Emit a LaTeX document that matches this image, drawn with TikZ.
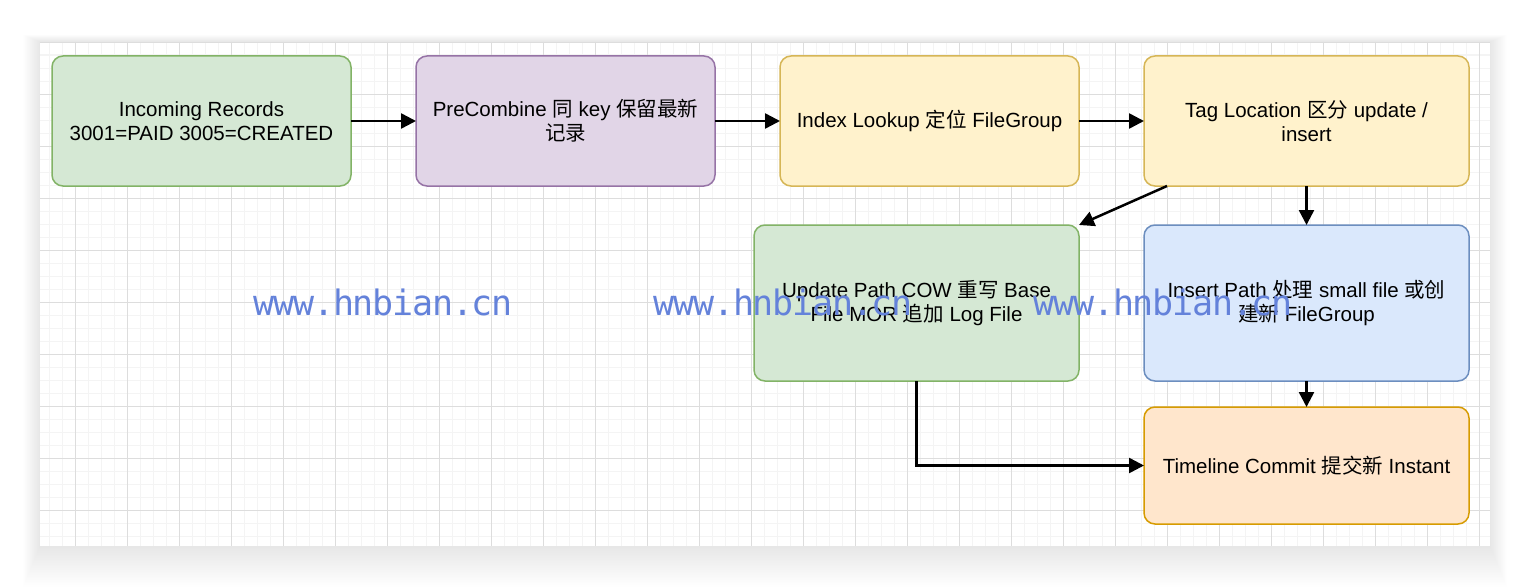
\documentclass[tikz,border=0pt]{standalone}
\usepackage{graphicx}
\usepackage{fontspec}
\setmainfont{Liberation Sans}
\newfontfamily\cjk{Noto Sans CJK SC}
\newfontfamily\wmfont{DejaVu Sans Mono}
\usetikzlibrary{arrows.meta,calc}
\definecolor{gfill}{HTML}{D5E8D4}\definecolor{gline}{HTML}{82B366}
\definecolor{pfill}{HTML}{E1D5E7}\definecolor{pline}{HTML}{9673A6}
\definecolor{yfill}{HTML}{FFF2CC}\definecolor{yline}{HTML}{D6B656}
\definecolor{bfill}{HTML}{DAE8FC}\definecolor{bline}{HTML}{6C8EBF}
\definecolor{ofill}{HTML}{FFE6CC}\definecolor{oline}{HTML}{D79B00}
\definecolor{gridminor}{HTML}{F4F4F4}
\definecolor{gridmajor}{HTML}{DDDDDD}
\definecolor{wmblue}{RGB}{100,130,218}
\newcommand\wc[1]{\makebox[19.85pt][c]{#1}}
\newcommand\wmark{\wmfont\fontsize{35}{35}\selectfont\wc{w}\wc{w}\wc{w}\wc{.}\wc{h}\wc{n}\wc{b}\wc{i}\wc{a}\wc{n}\wc{.}\wc{c}\wc{n}}
\tikzset{
  box/.style={draw, line width=1.5pt, rounded corners=11pt, inner sep=0pt, outer sep=0pt,
    align=center, font=\fontsize{20.5}{24}\selectfont},
  wide/.style={minimum width=299pt},
  wider/.style={minimum width=325pt},
  flow/.style={line width=2.5pt, -{Triangle[length=15pt,width=15pt]}},
  wm/.style={anchor=base west, inner sep=0pt, text=wmblue}
}
\begin{document}
\begin{tikzpicture}[x=1pt,y=-1pt]
\useasboundingbox (0,0) rectangle (1530,586);
\fill[white] (0,0) rectangle (1530,586);
% shadow
\foreach \i in {1,...,24}{
  \fill[black,opacity=0.005] (40-\i*0.7,42-\i*0.3) rectangle (1490+\i*0.7,546+\i*1.7);
}
% canvas
\fill[white] (40,42) rectangle (1490,546);
\begin{scope}
\clip (40,42) rectangle (1490,546);
\foreach \x in {49.3,62.3,...,1490}{\draw[gridminor,line width=1.6pt] (\x,42) -- (\x,546);}
\foreach \y in {55.3,68.3,...,546}{\draw[gridminor,line width=1.6pt] (40,\y) -- (1490,\y);}
\foreach \x in {75.3,127.3,...,1490}{\draw[gridmajor,line width=0.9pt] (\x,42) -- (\x,546);}
\foreach \y in {42.3,94.3,...,546}{\draw[gridmajor,line width=0.9pt] (40,\y) -- (1490,\y);}
\end{scope}
% nodes
\node[box,wide,minimum height=130pt,fill=gfill,draw=gline] (n1) at (201.5,121)
  {Incoming Records\\3001=PAID 3005=CREATED};
\node[box,wide,minimum height=130pt,fill=pfill,draw=pline] (n2) at (565.5,121)
  {PreCombine {\cjk 同} key {\cjk 保留最新}\\{\cjk 记录}};
\node[box,wide,minimum height=130pt,fill=yfill,draw=yline] (n3) at (929.5,121)
  {Index Lookup {\cjk 定位} FileGroup};
\node[box,wider,minimum height=130pt,fill=yfill,draw=yline] (n4) at (1306.5,121)
  {Tag Location {\cjk 区分} update /\\insert};
\node[box,wider,minimum height=156pt,fill=gfill,draw=gline] (n5) at (916.5,303)
  {Update Path COW {\cjk 重写} Base\\File MOR {\cjk 追加} Log File};
\node[box,wider,minimum height=156pt,fill=bfill,draw=bline] (n6) at (1306.5,303)
  {Insert Path {\cjk 处理} small file {\cjk 或创}\\{\cjk 建新} FileGroup};
\node[box,wider,minimum height=117pt,fill=ofill,draw=oline] (n7) at (1306.5,465.5)
  {Timeline Commit {\cjk 提交新} Instant};
% connectors
\draw[flow] (n1.east) -- (n2.west);
\draw[flow] (n2.east) -- (n3.west);
\draw[flow] (n3.east) -- (n4.west);
\coordinate (s45) at ($(n4.south west)+(23pt,0)$);
\draw[flow] (s45) -- (n5.north east);
\draw[flow] (n4.south) -- (n6.north);
\draw[flow] (n6.south) -- (n7.north);
\draw[flow] (n5.south) |- (n7.west);
% watermark
\node[wm] (w1) at (254,315) {\wmark};
\node[wm] (w2) at (654,315) {\wmark};
\node[wm] (w3) at (1034,315) {\wmark};
\end{tikzpicture}
\end{document}
